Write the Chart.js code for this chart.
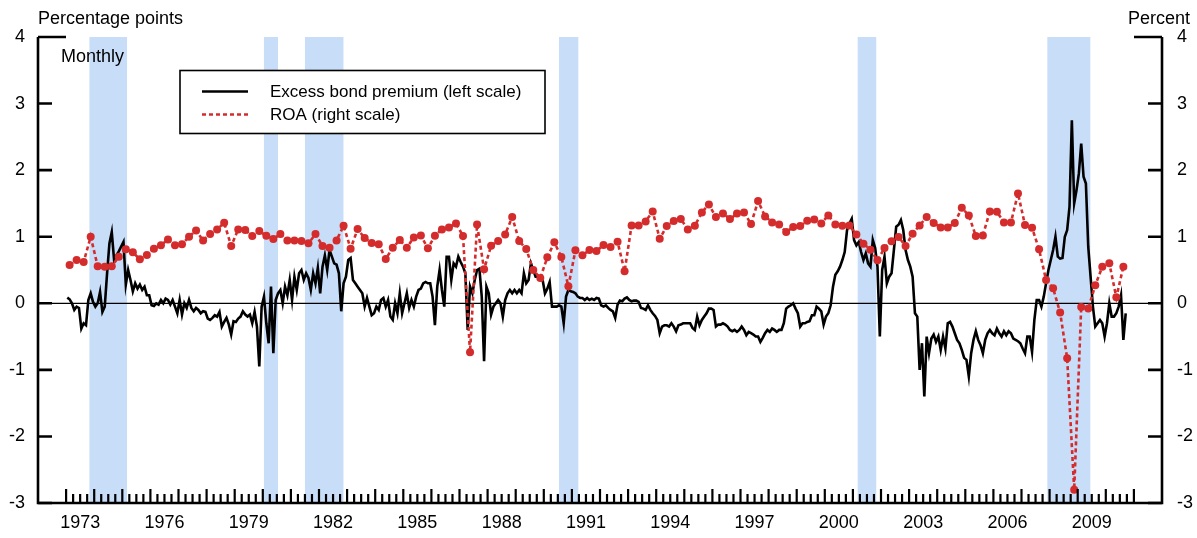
<!DOCTYPE html>
<html>
<head>
<meta charset="utf-8">
<script src="https://cdn.jsdelivr.net/npm/chart.js@4.4.0/dist/chart.umd.min.js"></script>
<style>
  body { margin: 0; background: #fff; }
</style>
</head>
<body>
<canvas id="chart" width="1197" height="538"></canvas>
<script>
// excess bond premium, monthly, Jan 1973 - Sep 2010 (left scale)
const ebpStart = 1973;
const ebp = [
  0.085, 0.06, 0.0, -0.1, -0.05, -0.07, -0.38, -0.3, -0.33, 0.05, 0.15, 0.02,
  -0.05, 0.0, 0.17, -0.13, -0.05, 0.45, 0.9, 1.07, 0.65, 0.72, 0.78, 0.85,
  0.92, 0.28, 0.5, 0.35, 0.18, 0.3, 0.22, 0.28, 0.2, 0.25, 0.12, 0.12,
  -0.03, -0.04, 0.0, -0.02, 0.05, 0.0, 0.07, 0.05, -0.02, 0.05, -0.05, -0.15,
  0.05, -0.17, 0.0, -0.07, 0.05, -0.07, -0.12, -0.07, -0.1, -0.15, -0.12, -0.13,
  -0.23, -0.25, -0.22, -0.18, -0.2, -0.13, -0.35, -0.28, -0.22, -0.32, -0.47, -0.27,
  -0.28, -0.23, -0.2, -0.12, -0.17, -0.2, -0.17, -0.3, -0.13, -0.35, -0.95, -0.05,
  0.1, -0.3, -0.6, 0.25, -0.75, 0.05, 0.15, 0.2, 0.0, 0.25, 0.12, 0.35,
  0.05, 0.4, 0.2, 0.45, 0.5, 0.35, 0.45, 0.38, 0.2, 0.45, 0.3, 0.53,
  0.15, 0.55, 0.72, 0.5, 0.8, 0.7, 0.6, 0.58, 0.45, -0.12, 0.3, 0.4,
  0.65, 0.68, 0.35, 0.3, 0.25, 0.2, 0.15, -0.05, 0.08, -0.05, -0.18, -0.15,
  -0.05, -0.1, 0.05, 0.08, -0.05, 0.05, -0.2, -0.25, 0.0, -0.15, 0.15, -0.15,
  0.0, 0.15, -0.07, 0.05, -0.05, 0.1, 0.2, 0.22, 0.3, 0.32, 0.3, 0.3,
  0.1, -0.33, 0.25, 0.5, 0.2, -0.05, 0.7, 0.7, 0.35, 0.6, 0.55, 0.7,
  0.62, 0.55, 0.45, -0.4, 0.25, 0.15, 0.35, 0.5, 0.52, 0.1, -0.87, 0.25,
  0.15, -0.17, -0.05, 0.0, 0.05, 0.0, -0.2, 0.05, 0.15, 0.2, 0.15, 0.2,
  0.15, 0.2, 0.15, 0.45, 0.3, 0.35, 0.6, 0.5, 0.4, 0.4, 0.35, 0.35,
  0.15, 0.22, 0.32, -0.05, -0.05, -0.05, -0.03, -0.05, -0.3, 0.1, 0.2, 0.18,
  0.17, 0.15, 0.1, 0.08, 0.08, 0.05, 0.08, 0.05, 0.07, 0.05, 0.08, 0.07,
  -0.03, -0.05, -0.03, -0.07, -0.1, -0.12, -0.22, -0.02, 0.04, 0.03, 0.07, 0.09,
  0.05, 0.03, 0.04, 0.04, 0.02, -0.07, -0.08, -0.1, -0.03, -0.1, -0.15, -0.19,
  -0.25, -0.45, -0.35, -0.33, -0.33, -0.35, -0.3, -0.35, -0.42, -0.33, -0.32, -0.3,
  -0.3, -0.3, -0.3, -0.37, -0.4, -0.2, -0.33, -0.25, -0.2, -0.15, -0.08, -0.08,
  -0.1, -0.35, -0.32, -0.32, -0.3, -0.32, -0.35, -0.4, -0.42, -0.4, -0.43, -0.4,
  -0.35, -0.4, -0.48, -0.43, -0.45, -0.47, -0.5, -0.5, -0.58, -0.52, -0.45, -0.4,
  -0.43, -0.38, -0.4, -0.43, -0.4, -0.4, -0.3, -0.08, -0.05, -0.03, 0.0, -0.08,
  -0.15, -0.35, -0.3, -0.3, -0.28, -0.27, -0.18, -0.18, -0.05, -0.08, -0.12, -0.32,
  -0.2, -0.15, -0.03, 0.25, 0.43, 0.48, 0.55, 0.65, 0.77, 1.1, 1.2, 1.27,
  0.95, 0.87, 0.92, 0.77, 0.65, 0.75, 0.6, 0.55, 0.95, 0.83, 0.55, -0.5,
  0.5, 0.7, 0.3, 0.4, 0.45, 0.8, 1.15, 1.18, 1.25, 1.1, 0.8, 0.65,
  0.55, 0.4, -0.15, -0.2, -1.0, -0.6, -1.4, -0.5, -0.75, -0.53, -0.47, -0.58,
  -0.5, -0.7, -0.5, -0.68, -0.3, -0.28, -0.35, -0.45, -0.55, -0.6, -0.7, -0.82,
  -0.85, -1.1, -0.75, -0.55, -0.42, -0.55, -0.63, -0.75, -0.55, -0.45, -0.4, -0.45,
  -0.48, -0.38, -0.45, -0.5, -0.42, -0.48, -0.42, -0.45, -0.53, -0.55, -0.57, -0.6,
  -0.68, -0.75, -0.5, -0.5, -0.73, -0.25, 0.05, 0.05, -0.05, 0.1, 0.3, 0.5,
  0.65, 0.8, 1.0, 0.7, 0.67, 0.68, 1.0, 1.1, 1.45, 2.75, 1.5, 1.7,
  1.95, 2.4, 1.9, 1.8, 0.85, 0.4, -0.05, -0.35, -0.3, -0.25, -0.3, -0.5,
  -0.3, 0.0, -0.2, -0.2, -0.15, -0.05, 0.12, -0.55, -0.15
];

// ROA, quarterly, 1973Q1 - 2010Q3 (right scale)
const roaStart = 1973;
const roa = [
  0.575, 0.65, 0.62, 1.0,
  0.555, 0.55, 0.555, 0.70,
  0.81, 0.765, 0.66, 0.725,
  0.82, 0.87, 0.96, 0.87,
  0.885, 1.0, 1.095, 0.945,
  1.04, 1.11, 1.21, 0.86,
  1.11, 1.10, 1.01, 1.085,
  1.015, 0.965, 1.04, 0.945,
  0.945, 0.935, 0.90, 1.04,
  0.86, 0.835, 0.945, 1.165,
  0.82, 1.115, 0.98, 0.905,
  0.885, 0.665, 0.835, 0.95,
  0.835, 0.99, 1.02, 0.825,
  1.015, 1.11, 1.14, 1.20,
  1.01, -0.735, 1.185, 0.51,
  0.865, 0.935, 1.035, 1.295,
  0.935, 0.815, 0.50, 0.38,
  0.69, 0.915, 0.695, 0.255,
  0.795, 0.72, 0.80, 0.785,
  0.875, 0.845, 0.925, 0.48,
  1.17, 1.17, 1.23, 1.38,
  0.97, 1.16, 1.235, 1.265,
  1.11, 1.165, 1.365, 1.485,
  1.295, 1.35, 1.265, 1.35,
  1.365, 1.19, 1.535, 1.305,
  1.215, 1.185, 1.07, 1.145,
  1.16, 1.24, 1.26, 1.20,
  1.32, 1.185, 1.165, 1.17,
  1.035, 0.895, 0.805, 0.645,
  0.83, 0.93, 0.995, 0.86,
  1.045, 1.17, 1.295, 1.205,
  1.14, 1.14, 1.205, 1.435,
  1.32, 1.01, 1.02, 1.38,
  1.375, 1.215, 1.215, 1.65,
  1.175, 1.135, 0.81, 0.35,
  0.225, -0.14, -0.825, -2.8,
  -0.055, -0.08, 0.27, 0.55,
  0.60, 0.09, 0.55
];

// NBER recessions (start, end) in decimal years
const recessions = [
  [1973.83, 1975.17],
  [1980.04, 1980.54],
  [1981.5, 1982.87],
  [1990.54, 1991.23],
  [2001.17, 2001.83],
  [2007.92, 2009.45]
];

const labelYears = [1973, 1976, 1979, 1982, 1985, 1988, 1991, 1994, 1997, 2000, 2003, 2006, 2009];
const yMin = -3, yMax = 4;

const red = '#d42c2c';
const shade = '#c7ddf8';
const fam = '"Liberation Sans", Arial, Helvetica, sans-serif';
Chart.defaults.font.family = fam;
Chart.defaults.color = '#000';

const ebpPoints = ebp.map((v, i) => ({x: ebpStart + (i + 0.5) / 12, y: v}));
const roaPoints = roa.map((v, i) => ({x: roaStart + (i + 0.5) / 4, y: v}));

const decor = {
  id: 'decor',
  beforeDatasetsDraw(chart) {
    const {ctx, chartArea: a, scales: {x, y}} = chart;
    ctx.save();
    ctx.fillStyle = shade;
    for (const [s, e] of recessions) {
      const x0 = x.getPixelForValue(s), x1 = x.getPixelForValue(e);
      ctx.fillRect(x0, a.top, x1 - x0, a.bottom - a.top);
    }
    // zero line
    const y0 = y.getPixelForValue(0);
    ctx.strokeStyle = '#000';
    ctx.lineWidth = 1.2;
    ctx.beginPath();
    ctx.moveTo(a.left, y0);
    ctx.lineTo(a.right, y0);
    ctx.stroke();
    ctx.restore();
  },
  afterDraw(chart) {
    const {ctx, chartArea: a, scales: {x, y}} = chart;
    ctx.save();
    ctx.strokeStyle = '#000';
    ctx.lineWidth = 2.6;
    // frame: left, bottom, right (no top)
    ctx.beginPath();
    ctx.moveTo(a.left, a.top);
    ctx.lineTo(a.left, a.bottom);
    ctx.lineTo(a.right, a.bottom);
    ctx.lineTo(a.right, a.top);
    ctx.stroke();

    // y ticks pointing inward, longer at the top
    for (let v = yMin; v <= yMax; v++) {
      const py = y.getPixelForValue(v);
      const len = v === yMax ? 28 : 14;
      ctx.beginPath();
      ctx.moveTo(a.left, py); ctx.lineTo(a.left + len, py);
      ctx.moveTo(a.right - len, py); ctx.lineTo(a.right, py);
      ctx.stroke();
    }

    // x ticks: years long, quarters short
    const firstYear = labelYears[0], lastYear = 2011;
    ctx.lineWidth = 2.2;
    for (let yr = firstYear; yr <= lastYear; yr++) {
      const px = x.getPixelForValue(yr);
      ctx.beginPath();
      ctx.moveTo(px, a.bottom); ctx.lineTo(px, a.bottom - 14);
      ctx.stroke();
      if (yr === lastYear) break;
      for (let q = 1; q < 4; q++) {
        const qx = x.getPixelForValue(yr + q / 4);
        ctx.beginPath();
        ctx.moveTo(qx, a.bottom); ctx.lineTo(qx, a.bottom - 9);
        ctx.stroke();
      }
    }

    // axis titles
    ctx.fillStyle = '#000';
    ctx.font = '18px ' + fam;
    ctx.textBaseline = 'alphabetic';
    ctx.textAlign = 'left';
    ctx.fillText('Percentage points', a.left, 24);
    ctx.fillText('Monthly', a.left + 23, 62);
    ctx.textAlign = 'right';
    ctx.fillText('Percent', 1190, 24);

    // legend
    const bx = 180, by = 70.5, bw = 365, bh = 63;
    ctx.fillStyle = '#fff';
    ctx.fillRect(bx, by, bw, bh);
    ctx.lineWidth = 1.6;
    ctx.strokeRect(bx, by, bw, bh);
    const ds = chart.data.datasets;
    const rows = [ds[1], ds[0]];
    rows.forEach((d, i) => {
      const ly = by + 21 + i * 23;
      ctx.strokeStyle = d.borderColor;
      ctx.lineWidth = 2.6;
      ctx.setLineDash(d.borderDash || []);
      ctx.beginPath();
      ctx.moveTo(bx + 22, ly); ctx.lineTo(bx + 68, ly);
      ctx.stroke();
      ctx.setLineDash([]);
      ctx.fillStyle = '#000';
      ctx.font = '17px ' + fam;
      ctx.textAlign = 'left';
      ctx.textBaseline = 'middle';
      ctx.fillText(d.label, bx + 90, ly + 1);
    });
    ctx.restore();
  }
};

new Chart(document.getElementById('chart'), {
  type: 'line',
  data: {
    datasets: [
      {
        label: 'ROA (right scale)',
        data: roaPoints,
        yAxisID: 'y2',
        borderColor: red,
        backgroundColor: red,
        borderWidth: 2.6,
        borderDash: [4, 3],
        pointRadius: 4,
        pointBackgroundColor: red,
        pointBorderWidth: 0,
        order: 0
      },
      {
        label: 'Excess bond premium (left scale)',
        data: ebpPoints,
        yAxisID: 'y',
        borderColor: '#000',
        borderWidth: 2.6,
        pointRadius: 0,
        order: 1
      }
    ]
  },
  options: {
    responsive: false,
    animation: false,
    layout: {padding: {top: 37, left: 0, right: 0, bottom: 0}},
    plugins: {legend: {display: false}, tooltip: {enabled: false}},
    scales: {
      x: {
        type: 'linear',
        min: 1972,
        max: 2012,
        grid: {display: false, drawTicks: false},
        border: {display: false},
        afterBuildTicks: s => { s.ticks = labelYears.map(v => ({value: v + 0.5})); },
        afterFit: s => { s.height = 35; },
        ticks: {
          autoSkip: false, maxRotation: 0, padding: 9,
          font: {size: 18},
          callback: v => String(Math.floor(v))
        }
      },
      y: {
        position: 'left',
        min: yMin, max: yMax,
        grid: {display: false, drawTicks: false},
        border: {display: false},
        afterFit: s => { s.width = 38; },
        ticks: {stepSize: 1, padding: 13, font: {size: 18}}
      },
      y2: {
        position: 'right',
        min: yMin, max: yMax,
        grid: {display: false, drawTicks: false},
        border: {display: false},
        afterFit: s => { s.width = 35; },
        ticks: {stepSize: 1, padding: 15, font: {size: 18}}
      }
    }
  },
  plugins: [decor]
});
</script>
</body>
</html>
